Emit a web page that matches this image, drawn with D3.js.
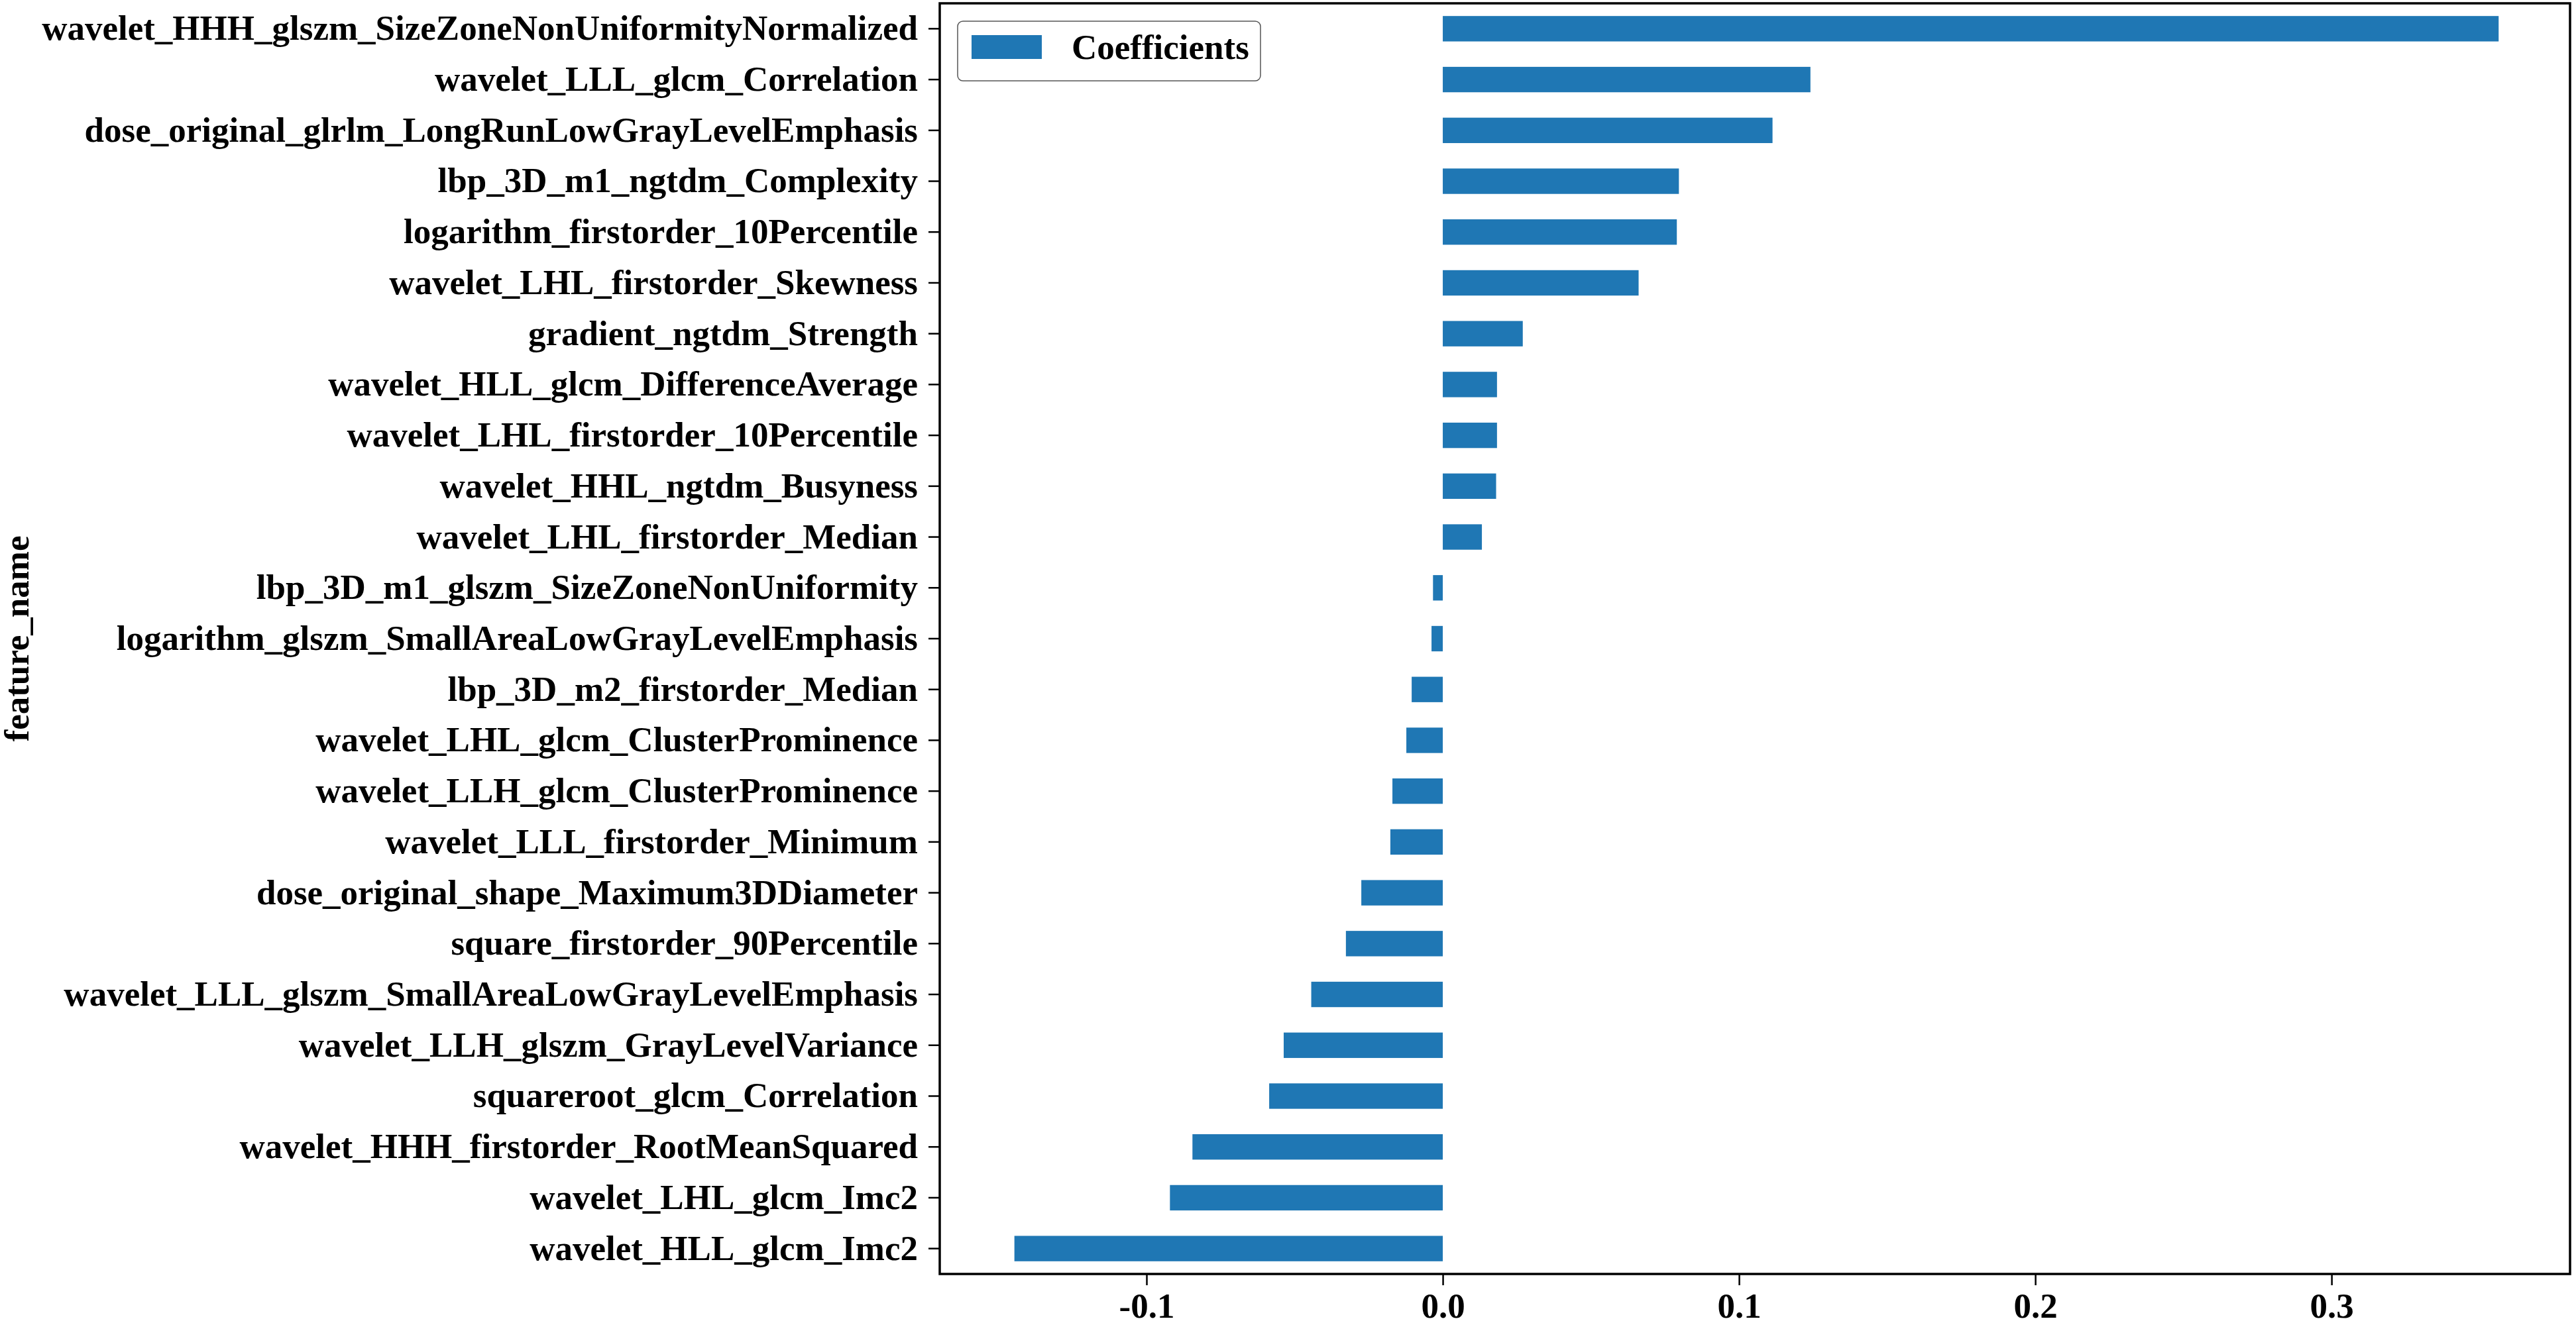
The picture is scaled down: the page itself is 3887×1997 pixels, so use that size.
<html>
<head>
<title> Coefficients </title>
<script type="text/javascript" src="https://cdn.jsdelivr.net/npm/d3@7"></script>
<style>
  * { margin: 0; padding: 0; }
  body { background: #fff; }
  text { font-family: "Liberation Serif", "Times New Roman", serif; font-weight: bold; }
</style>
</head>
<body>
<div id="chart"></div>
<script type="text/javascript">
// feature names, top to bottom
var features = [
  'wavelet_HHH_glszm_SizeZoneNonUniformityNormalized',
  'wavelet_LLL_glcm_Correlation',
  'dose_original_glrlm_LongRunLowGrayLevelEmphasis',
  'lbp_3D_m1_ngtdm_Complexity',
  'logarithm_firstorder_10Percentile',
  'wavelet_LHL_firstorder_Skewness',
  'gradient_ngtdm_Strength',
  'wavelet_HLL_glcm_DifferenceAverage',
  'wavelet_LHL_firstorder_10Percentile',
  'wavelet_HHL_ngtdm_Busyness',
  'wavelet_LHL_firstorder_Median',
  'lbp_3D_m1_glszm_SizeZoneNonUniformity',
  'logarithm_glszm_SmallAreaLowGrayLevelEmphasis',
  'lbp_3D_m2_firstorder_Median',
  'wavelet_LHL_glcm_ClusterProminence',
  'wavelet_LLH_glcm_ClusterProminence',
  'wavelet_LLL_firstorder_Minimum',
  'dose_original_shape_Maximum3DDiameter',
  'square_firstorder_90Percentile',
  'wavelet_LLL_glszm_SmallAreaLowGrayLevelEmphasis',
  'wavelet_LLH_glszm_GrayLevelVariance',
  'squareroot_glcm_Correlation',
  'wavelet_HHH_firstorder_RootMeanSquared',
  'wavelet_LHL_glcm_Imc2',
  'wavelet_HLL_glcm_Imc2'
];
var coefficients = [
  0.3564, 0.1241, 0.1113, 0.0797, 0.0790, 0.0661, 0.0270, 0.0183, 0.0183,
  0.0180, 0.0132, -0.0033, -0.0038, -0.0105, -0.0123, -0.0170, -0.0177,
  -0.0275, -0.0327, -0.0444, -0.0537, -0.0586, -0.0845, -0.0921, -0.1446
];
var xTicks = [-0.1, 0.0, 0.1, 0.2, 0.3];
var seriesName = 'Coefficients';
var yTitle = 'feature_name';

(function() {
  var W = 3887, H = 1997;
  var pLeft = 1418, pRight = 3878, pTop = 5, pBottom = 1923;
  var fs = 53;
  var blue = '#1f77b4';

  var svg = d3.select('#chart').append('svg')
      .attr('width', W)
      .attr('height', H);

  var x = d3.scaleLinear().domain([-0.1698, 0.3805]).range([pLeft, pRight]);
  var y = d3.scaleBand().domain(features).range([pTop, pBottom])
      .paddingInner(0.5).paddingOuter(0.25);

  // bars
  svg.selectAll('rect.bar')
      .data(features)
    .enter().append('rect')
      .attr('class', 'bar')
      .attr('x', function(d, i) { return Math.min(x(0), x(coefficients[i])); })
      .attr('width', function(d, i) { return Math.abs(x(coefficients[i]) - x(0)); })
      .attr('y', function(d) { return y(d); })
      .attr('height', y.bandwidth())
      .attr('fill', blue);

  // axes
  var xAxis = svg.append('g')
      .attr('transform', 'translate(0,' + pBottom + ')')
      .call(d3.axisBottom(x).tickValues(xTicks)
        .tickFormat(function(d) { return d.toFixed(1); })
        .tickSize(17).tickPadding(11));
  var yAxis = svg.append('g')
      .attr('transform', 'translate(' + pLeft + ',0)')
      .call(d3.axisLeft(y).tickSize(17).tickPadding(16));

  [xAxis, yAxis].forEach(function(g) {
    g.select('.domain').remove();
    g.selectAll('.tick line').attr('stroke', '#000').attr('stroke-width', 2.5);
    g.selectAll('.tick text')
      .attr('fill', '#000')
      .style('font-size', fs + 'px')
      .style('font-family', '"Liberation Serif", "Times New Roman", serif')
      .style('font-weight', 'bold');
  });
  xAxis.selectAll('.tick text').attr('dy', '0.71em');

  // frame
  svg.append('rect')
      .attr('x', pLeft).attr('y', pTop)
      .attr('width', pRight - pLeft).attr('height', pBottom - pTop)
      .attr('fill', 'none')
      .attr('stroke', '#000')
      .attr('stroke-width', 3.5);

  // y title
  svg.append('text')
      .attr('transform', 'translate(43,' + ((pTop + pBottom) / 2) + ') rotate(-90)')
      .attr('text-anchor', 'middle')
      .style('font-size', fs + 'px')
      .text(yTitle);

  // legend
  var lg = svg.append('g');
  lg.append('rect')
      .attr('x', 1445).attr('y', 32)
      .attr('width', 457).attr('height', 90)
      .attr('rx', 8).attr('ry', 8)
      .attr('fill', '#fff')
      .attr('stroke', '#555')
      .attr('stroke-width', 1.5);
  lg.append('rect')
      .attr('x', 1466).attr('y', 53)
      .attr('width', 106).attr('height', 36)
      .attr('fill', blue);
  lg.append('text')
      .attr('x', 1617).attr('y', 89)
      .style('font-size', fs + 'px')
      .text(seriesName);
})();
</script>
</body>
</html>
